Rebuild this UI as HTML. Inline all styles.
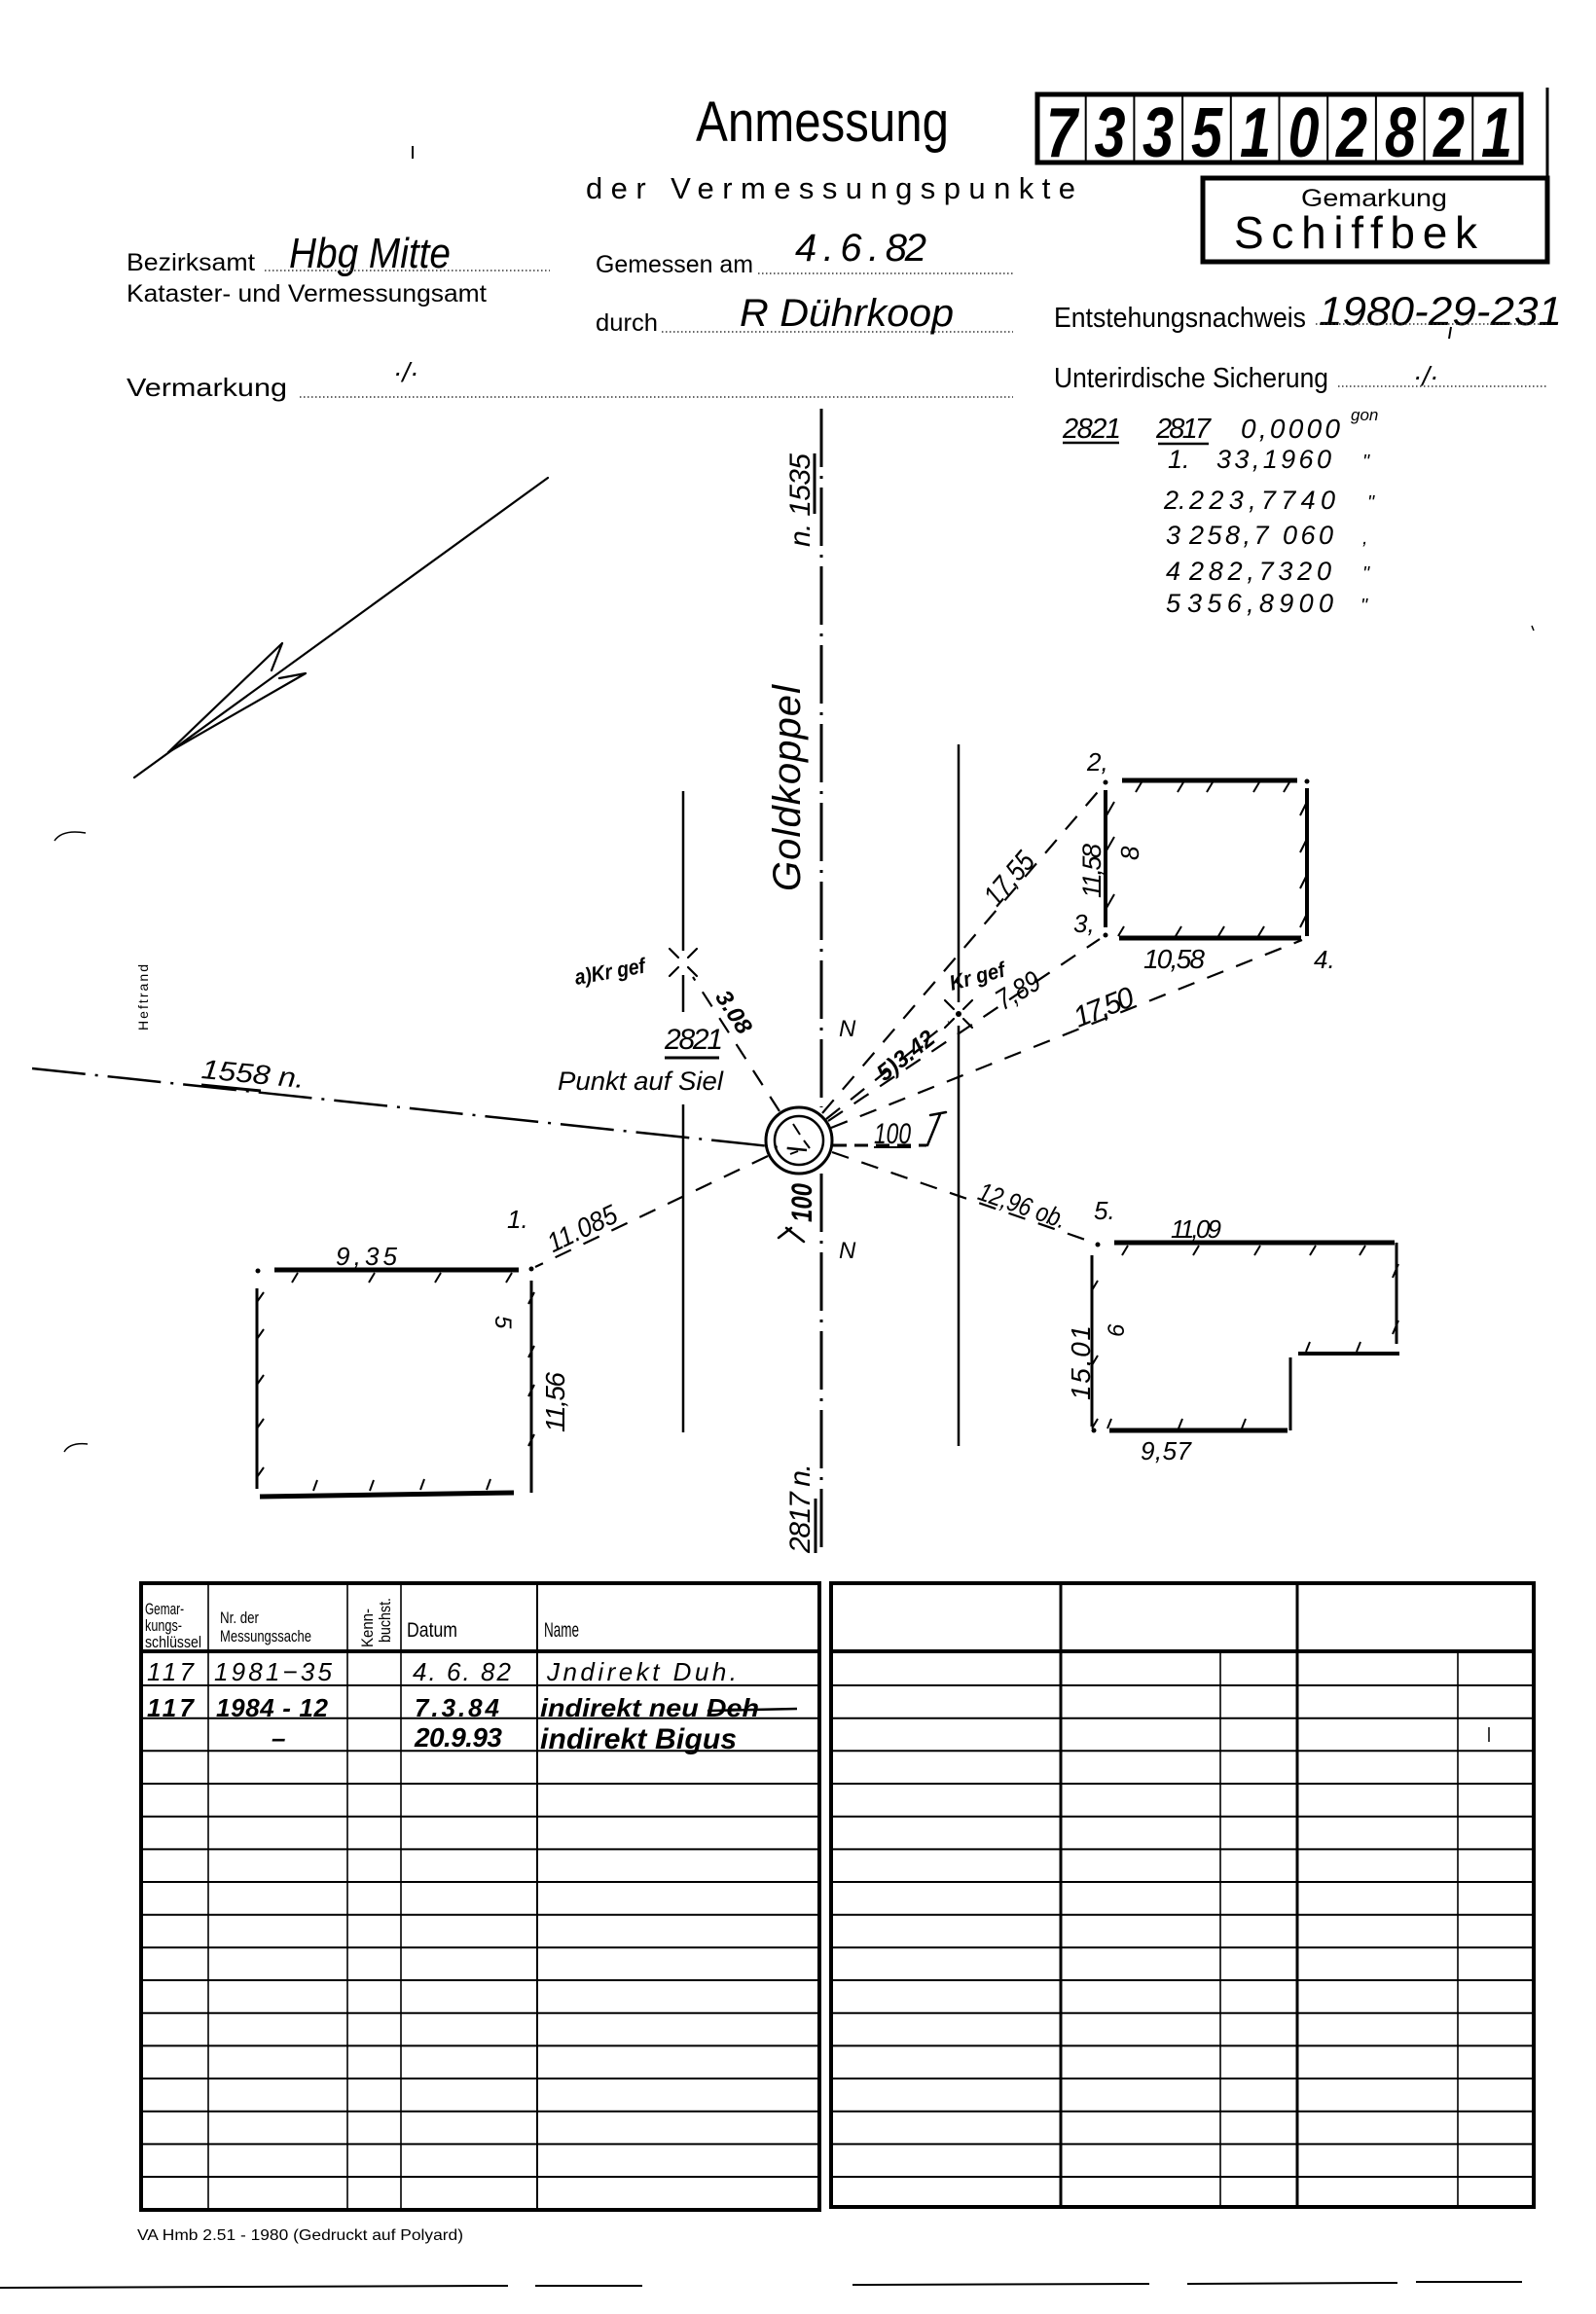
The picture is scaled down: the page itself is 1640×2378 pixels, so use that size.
<!DOCTYPE html>
<html><head><meta charset="utf-8"><style>
html,body{margin:0;padding:0;background:#fff;width:1640px;height:2378px;overflow:hidden}
svg{display:block}
text{font-family:"Liberation Sans",sans-serif;fill:#000}
.i{font-style:italic}
</style></head><body>
<svg width="1640" height="2378" viewBox="0 0 1640 2378" xmlns="http://www.w3.org/2000/svg">
<rect width="1640" height="2378" fill="#fff"/>

<!-- ===== HEADER ===== -->
<line x1="424" y1="150" x2="424" y2="163" stroke="#000" stroke-width="2"/>
<text x="715" y="145" font-size="58" textLength="260" lengthAdjust="spacingAndGlyphs">Anmessung</text>
<text x="602" y="204" font-size="31" textLength="503" lengthAdjust="spacing">der Vermessungspunkte</text>

<!-- number box -->
<rect x="1066" y="97" width="497" height="70" fill="none" stroke="#000" stroke-width="5"/>
<g stroke="#000" stroke-width="2">
<line x1="1115.7" y1="97" x2="1115.7" y2="167"/><line x1="1165.4" y1="97" x2="1165.4" y2="167"/>
<line x1="1215.1" y1="97" x2="1215.1" y2="167"/><line x1="1264.8" y1="97" x2="1264.8" y2="167"/>
<line x1="1314.5" y1="97" x2="1314.5" y2="167"/><line x1="1364.2" y1="97" x2="1364.2" y2="167"/>
<line x1="1413.9" y1="97" x2="1413.9" y2="167"/><line x1="1463.6" y1="97" x2="1463.6" y2="167"/>
<line x1="1513.3" y1="97" x2="1513.3" y2="167"/>
</g>
<g font-size="72" font-weight="bold" font-style="italic" text-anchor="middle">
<text transform="translate(1091,161) scale(0.8,1)">7</text>
<text transform="translate(1140.5,161) scale(0.8,1)">3</text>
<text transform="translate(1190,161) scale(0.8,1)">3</text>
<text transform="translate(1240,161) scale(0.8,1)">5</text>
<text transform="translate(1290,161) scale(0.8,1)">1</text>
<text transform="translate(1339.5,161) scale(0.8,1)">0</text>
<text transform="translate(1389,161) scale(0.8,1)">2</text>
<text transform="translate(1439,161) scale(0.8,1)">8</text>
<text transform="translate(1489,161) scale(0.8,1)">2</text>
<text transform="translate(1538,161) scale(0.8,1)">1</text>
</g>
<line x1="1590" y1="90" x2="1590" y2="185" stroke="#000" stroke-width="3"/>

<!-- Gemarkung box -->
<rect x="1236" y="183" width="354" height="86" fill="none" stroke="#000" stroke-width="5"/>
<text x="1337" y="212" font-size="25" textLength="150" lengthAdjust="spacingAndGlyphs">Gemarkung</text>
<text x="1268" y="255" font-size="46" textLength="250" lengthAdjust="spacing">Schiffbek</text>

<!-- left labels -->
<text x="130" y="278" font-size="25" textLength="132" lengthAdjust="spacingAndGlyphs">Bezirksamt</text>
<text class="i" x="297" y="275" font-size="44" textLength="166" lengthAdjust="spacingAndGlyphs">Hbg Mitte</text>
<line x1="272" y1="278" x2="565" y2="278" stroke="#333" stroke-width="1.5" stroke-dasharray="1.5 2.5"/>
<text x="130" y="310" font-size="25" textLength="370" lengthAdjust="spacingAndGlyphs">Kataster- und Vermessungsamt</text>
<text x="130" y="407" font-size="26" textLength="165" lengthAdjust="spacingAndGlyphs">Vermarkung</text>
<text class="i" x="404" y="392" font-size="28">·/·</text>
<line x1="308" y1="408" x2="1041" y2="408" stroke="#333" stroke-width="1.5" stroke-dasharray="1.5 2.5"/>

<!-- middle labels -->
<text x="612" y="280" font-size="25" textLength="162" lengthAdjust="spacingAndGlyphs">Gemessen am</text>
<text class="i" x="817" y="268" font-size="40" textLength="135" lengthAdjust="spacing">4 . 6 . 82</text>
<line x1="779" y1="281" x2="1041" y2="281" stroke="#333" stroke-width="1.5" stroke-dasharray="1.5 2.5"/>
<text x="612" y="340" font-size="25" textLength="64" lengthAdjust="spacingAndGlyphs">durch</text>
<text class="i" x="760" y="335" font-size="40" textLength="220" lengthAdjust="spacingAndGlyphs">R Dührkoop</text>
<line x1="680" y1="341" x2="1041" y2="341" stroke="#333" stroke-width="1.5" stroke-dasharray="1.5 2.5"/>

<!-- right labels -->
<text x="1083" y="336" font-size="29" textLength="259" lengthAdjust="spacingAndGlyphs">Entstehungsnachweis</text>
<text class="i" x="1355" y="334" font-size="42" textLength="250" lengthAdjust="spacingAndGlyphs">1980-29-231</text>
<line x1="1491" y1="336" x2="1489" y2="348" stroke="#000" stroke-width="2"/>
<line x1="1352" y1="333" x2="1590" y2="333" stroke="#333" stroke-width="1.5" stroke-dasharray="1.5 2.5"/>
<text x="1083" y="398" font-size="29" textLength="282" lengthAdjust="spacingAndGlyphs">Unterirdische Sicherung</text>
<line x1="1375" y1="397" x2="1590" y2="397" stroke="#333" stroke-width="1.5" stroke-dasharray="1.5 2.5"/>
<text class="i" x="1452" y="396" font-size="28">·/·</text>

<!-- angle list -->
<g class="i" font-style="italic">
<text x="1092" y="450" font-size="29" textLength="60" lengthAdjust="spacing">2821</text>
<text x="1188" y="450" font-size="29" textLength="56" lengthAdjust="spacing">2817</text>
<text x="1275" y="450" font-size="28" textLength="102" lengthAdjust="spacing">0,0000</text>
<text x="1388" y="432" font-size="17">gon</text>
<text x="1200" y="481" font-size="27">1.</text>
<text x="1250" y="481" font-size="27" textLength="118" lengthAdjust="spacing">33,1960</text>
<text x="1400" y="481" font-size="20">"</text>
<text x="1196" y="523" font-size="27">2.</text>
<text x="1222" y="523" font-size="27" textLength="150" lengthAdjust="spacing">223,7740</text>
<text x="1405" y="523" font-size="20">"</text>
<text x="1198" y="559" font-size="27">3</text>
<text x="1222" y="559" font-size="27" textLength="148" lengthAdjust="spacing">258,7 060</text>
<text x="1400" y="559" font-size="20">,</text>
<text x="1198" y="596" font-size="27">4</text>
<text x="1222" y="596" font-size="27" textLength="146" lengthAdjust="spacing">282,7320</text>
<text x="1400" y="596" font-size="20">"</text>
<text x="1198" y="629" font-size="27">5</text>
<text x="1220" y="629" font-size="27" textLength="150" lengthAdjust="spacing">356,8900</text>
<text x="1398" y="629" font-size="20">"</text>
</g>
<line x1="1092" y1="455" x2="1150" y2="455" stroke="#000" stroke-width="2.5"/>
<line x1="1190" y1="456" x2="1242" y2="456" stroke="#000" stroke-width="2.5"/>
<line x1="1574" y1="643" x2="1576" y2="648" stroke="#000" stroke-width="1.5"/>

<!-- ===== DRAWING ===== -->
<!-- north arrow -->
<g stroke="#000" fill="none" stroke-width="2.2" stroke-linecap="round" stroke-linejoin="round">
<line x1="563" y1="491" x2="138" y2="799"/>
<path d="M290,661 L173,773 M279,689 L290,661 M287,697 L314,692 L173,773"/>
</g>
<!-- small marks left -->
<path d="M56,864 Q64,852 88,856" stroke="#000" stroke-width="1.5" fill="none"/>
<path d="M66,1492 Q72,1482 90,1484" stroke="#000" stroke-width="1.5" fill="none"/>
<text transform="translate(152,1059) rotate(-90)" font-size="14" textLength="68" lengthAdjust="spacing">Heftrand</text>

<!-- road lines -->
<g stroke="#000" stroke-width="2.5">
<line x1="702" y1="813" x2="702" y2="977"/>
<line x1="702" y1="1002" x2="702" y2="1040"/>
<line x1="702" y1="1135" x2="702" y2="1472"/>
<line x1="985" y1="765" x2="985" y2="1030"/>
<line x1="985" y1="1054" x2="985" y2="1486"/>
</g>
<g stroke="#000" stroke-width="3" stroke-dasharray="60 9 3 9">
<line x1="844" y1="420" x2="844" y2="1138"/>
<line x1="844" y1="1206" x2="844" y2="1597"/>
</g>

<!-- Kr gef X marks -->
<g stroke="#000" stroke-width="2.2" stroke-linecap="round">
<path d="M688,975 L697,984 M707,994 L716,1003 M688,1003 L697,994 M707,984 L716,975"/>
<path d="M971,1028 L980,1037 M990,1047 L999,1056 M971,1056 L980,1047 M990,1037 L999,1028"/>
</g>
<circle cx="985" cy="1042" r="3" fill="#000"/>

<!-- central circle -->
<circle cx="821" cy="1172" r="34" fill="#fff" stroke="#000" stroke-width="3"/>
<circle cx="821" cy="1172" r="25" fill="none" stroke="#000" stroke-width="2.5"/>
<g stroke="#000" stroke-width="2"><line x1="815" y1="1155" x2="822" y2="1166"/><line x1="826" y1="1172" x2="832" y2="1180"/><line x1="812" y1="1186" x2="820" y2="1183"/></g>

<!-- dashed radial lines -->
<g stroke="#000" stroke-width="2.2" stroke-dasharray="18 14" fill="none">
<line x1="845" y1="1144" x2="1133" y2="808"/>
<line x1="849" y1="1150" x2="975" y2="1050"/>
<line x1="851" y1="1152" x2="1130" y2="965"/>
<line x1="854" y1="1159" x2="1338" y2="966"/>
<line x1="855" y1="1184" x2="1124" y2="1277"/>
<line x1="789" y1="1188" x2="550" y2="1302"/>
<line x1="801" y1="1142" x2="712" y2="1004"/>
</g>
<line x1="856" y1="1177" x2="952" y2="1177" stroke="#000" stroke-width="3" stroke-dasharray="14 8"/>
<line x1="33" y1="1098" x2="829" y2="1182" stroke="#000" stroke-width="2.5" stroke-dasharray="55 10 3 10"/>

<!-- drawing labels -->
<g class="i" font-style="italic">
<text transform="translate(260,1103) rotate(5.5)" x="-53" y="10" font-size="28" textLength="106" lengthAdjust="spacingAndGlyphs">1558 n.</text>
<text transform="translate(598,1262) rotate(-25.6)" x="-38" y="10" font-size="28" textLength="76" lengthAdjust="spacingAndGlyphs">11.085</text>
<text x="521" y="1262" font-size="26">1.</text>
<text transform="translate(1051,1238) rotate(19.2)" x="-47" y="10" font-size="27" textLength="94" lengthAdjust="spacingAndGlyphs">12,96 ob.</text>
<text x="1124" y="1253" font-size="26">5.</text>
<text transform="translate(1134,1035) rotate(-21.7)" x="-32" y="10" font-size="30" textLength="64" lengthAdjust="spacing">17,50</text>
<text x="1350" y="995" font-size="26">4.</text>
<text transform="translate(1037,903) rotate(-49.4)" x="-31" y="10" font-size="30" textLength="62" lengthAdjust="spacingAndGlyphs">17,55</text>
<text x="1117" y="792" font-size="26">2,</text>
<text x="1103" y="958" font-size="26">3,</text>
<text transform="translate(1046,1018) rotate(-31)" x="-24" y="10" font-size="30" textLength="48" lengthAdjust="spacingAndGlyphs">7,89</text>
<text transform="translate(930,1084) rotate(-38)" x="-34" y="9" font-size="24" font-weight="bold" textLength="68" lengthAdjust="spacingAndGlyphs">5)3.42</text>
<text transform="translate(754,1040) rotate(57)" x="-24" y="8" font-size="24" font-weight="bold" textLength="48" lengthAdjust="spacingAndGlyphs">3.08</text>
<text transform="translate(978,1018) rotate(-15)" font-size="22" font-weight="bold" textLength="58" lengthAdjust="spacingAndGlyphs">Kr gef</text>
<text transform="translate(592,1012) rotate(-10)" font-size="22" font-weight="bold" textLength="73" lengthAdjust="spacingAndGlyphs">a)Kr gef</text>
<text x="683" y="1078" font-size="30" textLength="60" lengthAdjust="spacing">2821</text>
<text x="573" y="1120" font-size="27" textLength="170" lengthAdjust="spacingAndGlyphs">Punkt auf Siel</text>
<text x="862" y="1065" font-size="24">N</text>
<text x="862" y="1293" font-size="24">N</text>
<text x="898" y="1175" font-size="30" textLength="38" lengthAdjust="spacingAndGlyphs">100</text>
<text transform="translate(834,1256) rotate(-90)" font-size="30" font-weight="bold" textLength="40" lengthAdjust="spacingAndGlyphs">100</text>
<text transform="translate(822,916) rotate(-90)" font-size="40" textLength="212" lengthAdjust="spacing">Goldkoppel</text>
<text transform="translate(832,562) rotate(-90)" font-size="30" textLength="96" lengthAdjust="spacing">n.  1535</text>
<text transform="translate(832,1596) rotate(-90)" font-size="30" textLength="92" lengthAdjust="spacing">2817 n.</text>
<!-- building labels -->
<text x="1175" y="995" font-size="28" textLength="63" lengthAdjust="spacing">10,58</text>
<text transform="translate(1131,923) rotate(-90)" font-size="27" textLength="56" lengthAdjust="spacing">11,58</text>
<text transform="translate(1170,884) rotate(-90)" font-size="26">8</text>
<text x="345" y="1300" font-size="26" textLength="63" lengthAdjust="spacing">9,35</text>
<text transform="translate(509,1352) rotate(90)" font-size="24">5</text>
<text transform="translate(580,1472) rotate(-90)" font-size="28" textLength="62" lengthAdjust="spacing">11,56</text>
<text x="1203" y="1272" font-size="26" textLength="52" lengthAdjust="spacing">11,09</text>
<text transform="translate(1155,1374) rotate(-90)" font-size="24">6</text>
<text transform="translate(1120,1439) rotate(-90)" font-size="28" textLength="77" lengthAdjust="spacing">15,01</text>
<text x="1172" y="1500" font-size="26" textLength="52" lengthAdjust="spacing">9,57</text>
</g>
<g stroke="#000" stroke-width="3">
<line x1="683" y1="1087" x2="739" y2="1087"/>
<line x1="207" y1="1115" x2="268" y2="1121"/>
<line x1="837" y1="466" x2="837" y2="528"/>
<line x1="838" y1="1540" x2="838" y2="1596"/>
<line x1="898" y1="1179" x2="936" y2="1179" stroke-width="2"/>
</g>
<g stroke="#000" stroke-width="2.5" stroke-linecap="round" fill="none">
<path d="M966,1145 L953,1177 M956,1146 L972,1143"/>
<path d="M808,1262 L826,1276 M800,1272 L813,1262"/>
</g>

<!-- buildings -->
<g stroke="#000" fill="none" stroke-linecap="butt">
<!-- building 8 -->
<path d="M1153,802 L1333,802 M1150,964 L1337,964" stroke-width="5"/>
<path d="M1343,810 L1343,962 M1136,812 L1136,953" stroke-width="4"/>
<path stroke-width="2" d="M1173,804 L1167,814 M1216,804 L1210,814 M1246,804 L1240,814 M1294,804 L1288,814 M1325,804 L1319,814
M1336,838 L1343,824 M1336,876 L1343,862 M1336,913 L1343,899 M1336,953 L1343,939
M1149,962 L1155,952 M1208,962 L1214,952 M1252,962 L1258,952 M1293,962 L1299,952
M1137,838 L1145,824 M1137,874 L1145,860 M1137,933 L1145,919"/>
<!-- building lower left -->
<path d="M282,1305 L533,1305 M267,1538 L528,1534" stroke-width="5"/>
<path d="M264,1324 L264,1530 M546,1316 L546,1534" stroke-width="3"/>
<path stroke-width="2" d="M306,1308 L300,1318 M385,1308 L379,1318 M453,1308 L447,1318 M526,1308 L520,1318
M264,1338 L271,1328 M264,1376 L271,1366 M264,1423 L271,1413 M264,1468 L271,1458 M264,1518 L271,1508
M543,1340 L549,1328 M543,1395 L549,1383 M543,1435 L549,1423 M543,1486 L549,1474
M322,1532 L326,1521 M380,1532 L384,1521 M432,1531 L436,1520 M500,1531 L504,1520"/>
<!-- building lower right -->
<path d="M1145,1277 L1433,1277 M1140,1470 L1323,1470" stroke-width="5"/>
<path d="M1334,1391 L1438,1391" stroke-width="4"/>
<path d="M1435,1277 L1435,1381 M1326,1395 L1326,1470 M1122,1290 L1122,1466" stroke-width="3"/>
<path stroke-width="2" d="M1159,1280 L1153,1290 M1232,1280 L1226,1290 M1295,1280 L1289,1290 M1352,1280 L1346,1290 M1403,1280 L1397,1290
M1431,1313 L1437,1299 M1431,1371 L1437,1357
M1342,1389 L1346,1379 M1394,1389 L1398,1379
M1138,1468 L1142,1458 M1211,1468 L1215,1458 M1276,1468 L1280,1458
M1122,1326 L1128,1316 M1122,1403 L1128,1393 M1122,1468 L1128,1458"/>
</g>
<g fill="#000">
<circle cx="1136" cy="804" r="2.5"/><circle cx="1343" cy="803" r="2.5"/><circle cx="1136" cy="961" r="2.5"/>
<circle cx="265" cy="1306" r="2.5"/><circle cx="546" cy="1304" r="2.5"/>
<circle cx="1128" cy="1279" r="2.5"/><circle cx="1124" cy="1470" r="2.5"/>
</g>

<!-- ===== TABLES ===== -->
<g stroke="#000" fill="none">
<rect x="145" y="1627" width="697" height="644" stroke-width="4"/>
<line x1="145" y1="1697" x2="842" y2="1697" stroke-width="4"/>
<rect x="854" y="1627" width="722" height="641" stroke-width="4"/>
<line x1="854" y1="1697" x2="1576" y2="1697" stroke-width="4"/>
<g stroke-width="1.6">
<line x1="214" y1="1627" x2="214" y2="2271"/><line x1="357" y1="1627" x2="357" y2="2271"/>
<line x1="412" y1="1627" x2="412" y2="2271"/>
<line x1="1254" y1="1697" x2="1254" y2="2268"/><line x1="1498" y1="1697" x2="1498" y2="2268"/>
</g>
<line x1="552" y1="1627" x2="552" y2="2271" stroke-width="2"/>
<line x1="1090" y1="1627" x2="1090" y2="2268" stroke-width="3"/>
<line x1="1333" y1="1627" x2="1333" y2="2268" stroke-width="3"/>
<g stroke-width="2">
<path d="M145,1732H842M145,1765.7H842M145,1799.3H842M145,1833H842M145,1866.7H842M145,1900.4H842M145,1934H842M145,1967.7H842M145,2001.4H842M145,2035H842M145,2068.7H842M145,2102.4H842M145,2136H842M145,2169.7H842M145,2203.4H842M145,2237H842"/>
<path d="M854,1732H1576M854,1765.7H1576M854,1799.3H1576M854,1833H1576M854,1866.7H1576M854,1900.4H1576M854,1934H1576M854,1967.7H1576M854,2001.4H1576M854,2035H1576M854,2068.7H1576M854,2102.4H1576M854,2136H1576M854,2169.7H1576M854,2203.4H1576M854,2237H1576"/>
</g>
</g>
<!-- table header text -->
<text x="149" y="1659" font-size="17" textLength="40" lengthAdjust="spacingAndGlyphs">Gemar-</text>
<text x="149" y="1676" font-size="17" textLength="38" lengthAdjust="spacingAndGlyphs">kungs-</text>
<text x="149" y="1693" font-size="17" textLength="58" lengthAdjust="spacingAndGlyphs">schlüssel</text>
<text x="226" y="1668" font-size="17" textLength="40" lengthAdjust="spacingAndGlyphs">Nr. der</text>
<text x="226" y="1687" font-size="17" textLength="94" lengthAdjust="spacingAndGlyphs">Messungssache</text>
<text transform="translate(383,1693) rotate(-90)" font-size="17" textLength="40" lengthAdjust="spacingAndGlyphs">Kenn-</text>
<text transform="translate(401,1688) rotate(-90)" font-size="17" textLength="46" lengthAdjust="spacingAndGlyphs">buchst.</text>
<text x="418" y="1682" font-size="21" textLength="52" lengthAdjust="spacingAndGlyphs">Datum</text>
<text x="559" y="1682" font-size="21" textLength="36" lengthAdjust="spacingAndGlyphs">Name</text>
<!-- table rows -->
<g class="i" font-style="italic">
<text x="151" y="1727" font-size="26" textLength="48" lengthAdjust="spacing">117</text>
<text x="220" y="1727" font-size="26" textLength="121" lengthAdjust="spacing">1981−35</text>
<text x="424" y="1727" font-size="26" textLength="101" lengthAdjust="spacing">4. 6. 82</text>
<text x="562" y="1727" font-size="26" textLength="195" lengthAdjust="spacing">Jndirekt  Duh.</text>
<text x="151" y="1764" font-size="26" font-weight="bold" textLength="48" lengthAdjust="spacing">117</text>
<text x="222" y="1764" font-size="26" font-weight="bold" textLength="115" lengthAdjust="spacing">1984 - 12</text>
<text x="426" y="1764" font-size="26" font-weight="bold" textLength="87" lengthAdjust="spacing">7.3.84</text>
<text x="555" y="1764" font-size="26" font-weight="bold" textLength="225" lengthAdjust="spacingAndGlyphs">indirekt neu Deh</text>
<text x="279" y="1795" font-size="26" font-weight="bold">–</text>
<text x="426" y="1795" font-size="28" font-weight="bold" textLength="90" lengthAdjust="spacing">20.9.93</text>
<text x="555" y="1797" font-size="30" font-weight="bold" textLength="202" lengthAdjust="spacing">indirekt  Bigus</text>
</g>
<line x1="727" y1="1758" x2="819" y2="1756" stroke="#000" stroke-width="2.5"/>
<line x1="1530" y1="1775" x2="1530" y2="1790" stroke="#000" stroke-width="1.5"/>

<!-- footer -->
<text x="141" y="2302" font-size="16" textLength="335" lengthAdjust="spacingAndGlyphs">VA Hmb 2.51 - 1980 (Gedruckt auf Polyard)</text>
<g stroke="#000" stroke-width="2">
<line x1="0" y1="2351" x2="522" y2="2349"/>
<line x1="550" y1="2349" x2="660" y2="2349"/>
<line x1="876" y1="2348" x2="1181" y2="2347"/>
<line x1="1220" y1="2347" x2="1436" y2="2346"/>
<line x1="1455" y1="2345" x2="1564" y2="2345"/>
</g>
</svg>
</body></html>
